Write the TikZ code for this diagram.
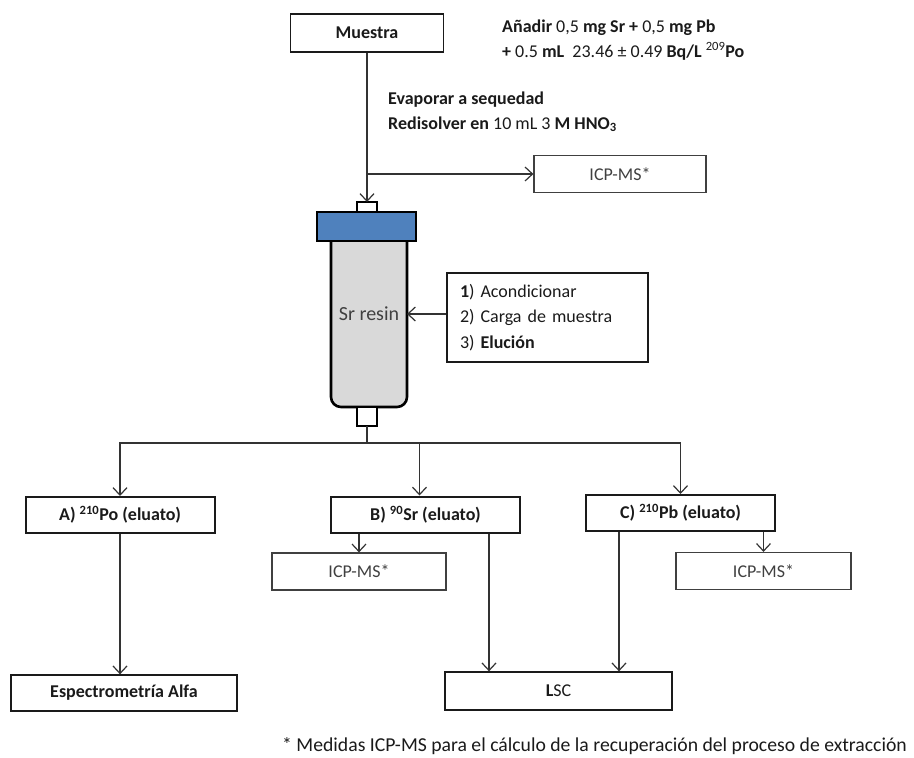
\documentclass[tikz,border=0pt]{standalone}
\usepackage{fontspec}
\setmainfont{Carlito}
\usetikzlibrary{arrows.meta}
\definecolor{tinta}{HTML}{1A1A1A}
\definecolor{linea}{HTML}{333333}
\definecolor{gristexto}{HTML}{404040}
\definecolor{azultapa}{HTML}{4F81BD}
\definecolor{grisresina}{HTML}{D9D9D9}
\tikzset{
  caja/.style={draw=tinta, line width=1.4pt, inner sep=0pt, text=tinta,
    font=\fontsize{18}{21}\selectfont\bfseries},
  cajaeluato/.style={caja, line width=2pt, minimum width=189pt, minimum height=36pt},
  cajaicp/.style={draw=gristexto, line width=1.2pt, inner sep=0pt, text=gristexto,
    font=\fontsize{18}{21}\selectfont, minimum width=174pt, minimum height=37pt},
  texto/.style={anchor=base west, inner sep=0pt, text=tinta, font=\fontsize{18}{21}\selectfont},
  flecha/.style={draw=linea, line width=1.2pt, -{Straight Barb[length=7.5pt,width=14pt]}},
  tramo/.style={draw=linea, line width=1.2pt},
}
\begin{document}
\begin{tikzpicture}[x=1pt,y=-1pt]
\useasboundingbox (0,0) rectangle (914,758);

% muestra y tratamiento previo
\node[caja, minimum width=153pt, minimum height=38pt] (muestra) at (367,33) {Muestra};
\node[texto] (aditivos-a) at (502,32) {\textbf{Añadir} 0,5 \textbf{mg Sr +} 0,5 \textbf{mg Pb}};
\node[texto] (aditivos-b) at (502,57) {\textbf{+} 0.5 \textbf{mL}~~23.46 ± 0.49 \textbf{Bq/L}~\textsuperscript{209}\textbf{Po}};
\node[texto] (evaporar) at (388,104) {\textbf{Evaporar a sequedad}};
\node[texto] (redisolver) at (388,129) {\textbf{Redisolver en} 10 mL 3 \textbf{M HNO\textsubscript{3}}};
\node[cajaicp, minimum width=172pt] (icp1) at (620,174) {ICP-MS*};

% columna Sr resin
\filldraw[draw=black, line width=2.6pt, fill=grisresina, rounded corners=10pt]
  (331,241) -- (331,407) -- (407,407) -- (407,241);
\filldraw[draw=black, line width=2.6pt, fill=azultapa] (317,212) rectangle (416,241);
\filldraw[draw=black, line width=1.8pt, fill=white] (357,202) rectangle (377,212);
\filldraw[draw=black, line width=1.8pt, fill=white] (357,407) rectangle (377,426);
\coordinate (entrada) at (367,202);
\coordinate (salida) at (367,426);
\coordinate (cuerpo) at (407,314);
\node[text=gristexto, font=\fontsize{20}{24}\selectfont] (resina) at (369,314) {Sr resin};

\node[draw=tinta, line width=1.4pt, inner xsep=13pt, text width=175pt, align=left,
  minimum height=89pt, text=tinta, font=\fontsize{18}{25.5}\selectfont] (pasos) at (547.5,317.5)
  {\textbf{1}) Acondicionar\\2) Carga de muestra\\3) \textbf{Elución}};

\draw[flecha] (muestra.south) -- (entrada);
\draw[flecha] (muestra.south |- icp1.west) -- (icp1.west);
\draw[flecha] (pasos.west |- cuerpo) -- (cuerpo);

% fracciones eluidas
\node[cajaeluato] (A) at (120,515) {A) \textsuperscript{210}Po (eluato)};
\node[cajaeluato] (B) at (425.5,514.5) {B) \textsuperscript{90}Sr (eluato)};
\node[cajaeluato] (C) at (680.5,513) {C) \textsuperscript{210}Pb (eluato)};
\node[cajaicp] (icpB) at (359,571.5) {ICP-MS*};
\node[cajaicp, minimum width=175pt] (icpC) at (763.5,571) {ICP-MS*};
\node[caja, line width=1.3pt, minimum width=226pt, minimum height=36pt] (alfa) at (124,693) {Espectrometría Alfa};
\node[caja, line width=1.3pt, minimum width=227pt, minimum height=38pt, font=\fontsize{18}{21}\selectfont] (lsc) at (558.5,691) {\textbf{L}SC};

\coordinate (rama) at (367,443);
\coordinate (bentrada) at ([xshift=-6pt]B.north);
\coordinate (bsalida) at ([xshift=-32pt]B.south east);
\coordinate (csalida) at ([xshift=34pt]C.south west);
\draw[tramo] (salida) -- (rama);
\draw[flecha] (rama) -| (A.north);
\draw[flecha] (rama) -| (bentrada);
\draw[flecha] (rama) -| (C.north);
\draw[flecha] (A.south) -- (A.south |- alfa.north);
\draw[flecha] (icpB.north |- B.south) -- (icpB.north);
\draw[flecha] (icpC.north |- C.south) -- (icpC.north);
\draw[flecha] (bsalida) -- (bsalida |- lsc.north);
\draw[flecha] (csalida) -- (csalida |- lsc.north);

\node[anchor=base west, inner sep=0pt, text=tinta, font=\fontsize{19.7}{23}\selectfont] (nota) at (282,751)
  {* Medidas ICP-MS para el cálculo de la recuperación del proceso de extracción};
\end{tikzpicture}
\end{document}
